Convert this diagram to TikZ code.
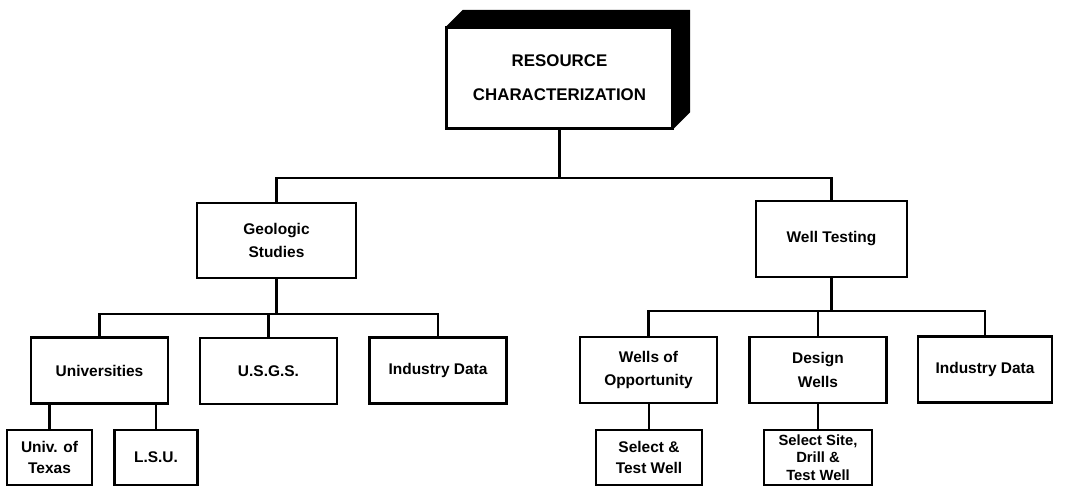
\documentclass[tikz,border=0pt]{standalone}
\usepackage{fontspec}
\setmainfont{Liberation Sans}
\usetikzlibrary{positioning,calc}
\tikzset{
  rootbox/.style={draw=black, line width=1.6pt, fill=white, align=center, inner sep=0pt, minimum width=5.625cm, minimum height=2.5cm, font=\fontsize{12}{24}\selectfont\bfseries},
  midbox/.style={draw=black, line width=1.5pt, align=center, inner sep=0pt, minimum width=3.425cm, minimum height=1.65cm, font=\fontsize{11}{17}\selectfont\bfseries},
  leafbox/.style={draw=black, line width=1.5pt, align=center, inner sep=0pt, minimum height=1.375cm, font=\fontsize{11}{15}\selectfont\bfseries},
  link/.style={line width=1.5pt}
}

\begin{document}
\begin{tikzpicture}[x=0.025cm,y=-0.025cm]
\useasboundingbox (0,0) rectangle (1080,487);

% top of the chart, drawn as a raised block
\node[rootbox] (rc) at (559.5,78) {RESOURCE\\CHARACTERIZATION};
\fill[black] (rc.north west) -- ++(17,-17) -- ($(rc.north east)+(17,-17)$)
  -- ($(rc.south east)+(17,-17)$) -- (rc.south east) -- (rc.north east) -- cycle;
\draw[line width=1.6pt] (rc.north west) rectangle (rc.south east);

% second level
\node[midbox, minimum width=3.975cm, minimum height=1.875cm] (geo) at (276.5,240.5) {Geologic\\Studies};
\node[midbox, minimum width=3.775cm, minimum height=1.9cm] (wt) at (831.5,239) {Well Testing};

\draw[link] (rc.south) -- ++(0,49) -| (geo.north);
\draw[link] (rc.south) -- ++(0,49) -| (wt.north);

% geologic branch
\node[midbox] (univ) at (99.5,370.5) {Universities};
\node[midbox] (usgs) at (268.5,371) {U.S.G.S.};
\node[midbox] (indgeo) at (438,370.5) {Industry Data};

\draw[link] (geo.south) -- ++(0,35) -| (univ.north);
\draw[link] (geo.south) -- ++(0,35) -| (usgs.north);
\draw[link] (geo.south) -- ++(0,35) -| (indgeo.north);

\node[leafbox, minimum width=2.125cm] (utx) at (49.5,457.5) {Univ. of\\Texas};
\node[leafbox, minimum width=2.075cm] (lsu) at (156,457.5) {L.S.U.};
\draw[link] (utx.north) -- (utx.north |- univ.south);
\draw[link] (lsu.north) -- (lsu.north |- univ.south);

% well testing branch
\node[midbox] (wop) at (648.5,370) {Wells of\\Opportunity};
\node[midbox] (dw) at (818,370) {Design\\Wells};
\node[midbox, minimum width=3.35cm] (indwt) at (985,369.5) {Industry Data};

\draw[link] (wt.south) -- ++(0,33) -| (wop.north);
\draw[link] (wt.south) -- ++(0,33) -| (dw.north);
\draw[link] (wt.south) -- ++(0,33) -| (indwt.north);

\node[leafbox, minimum width=2.65cm] (stw) at (649,457.5) {Select \&\\Test Well};
\node[leafbox, minimum width=2.7cm, font=\fontsize{10.5}{12.5}\selectfont\bfseries] (ssd) at (818,457.5) {Select Site,\\Drill \&\\Test Well};
\draw[link] (stw.north) -- (stw.north |- wop.south);
\draw[link] (ssd.north) -- (ssd.north |- dw.south);
\end{tikzpicture}
\end{document}
